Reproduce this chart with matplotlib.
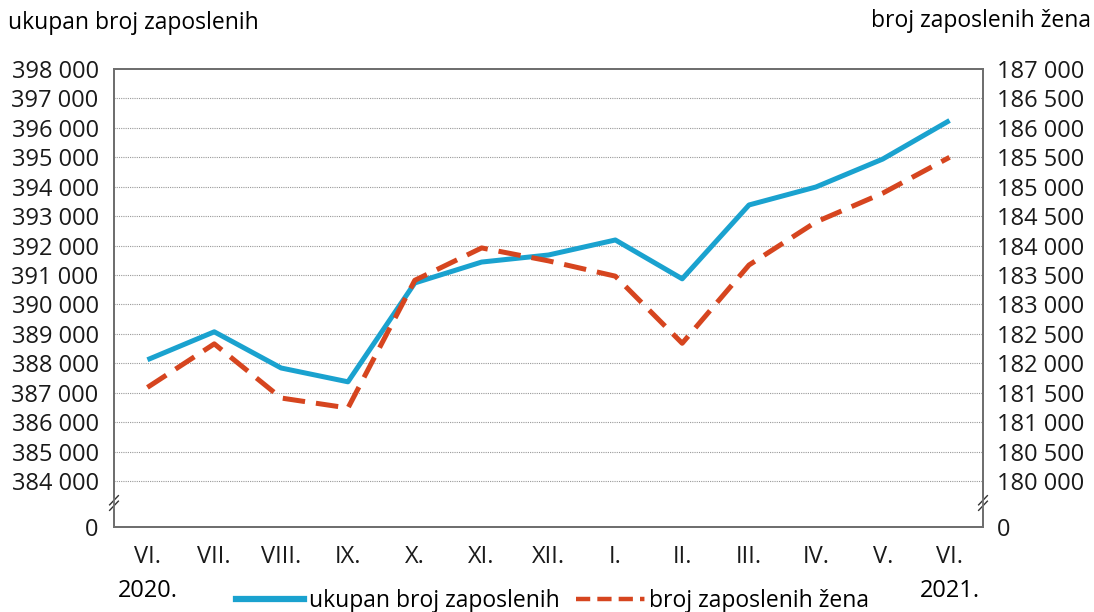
import matplotlib
matplotlib.use('Agg')
import matplotlib.pyplot as plt
import matplotlib.transforms as mtransforms
import numpy as np

plt.rcParams['font.family'] = ['Open Sans', 'DejaVu Sans']

# data
months = ['VI.', 'VII.', 'VIII.', 'IX.', 'X.', 'XI.', 'XII.', 'I.', 'II.', 'III.', 'IV.', 'V.', 'VI.']
total = [388120, 389070, 387840, 387370, 390730, 391440, 391680, 392190, 390870,
         393380, 393990, 394940, 396250]
women = [181590, 182330, 181410, 181240, 183410, 183960, 183740, 183480, 182340,
         183670, 184400, 184890, 185500]
left_ticks = list(range(384000, 398001, 1000))
right_ticks = list(range(180000, 187001, 500))

blue = '#1aa2cf'
red = '#d6451f'
frame = '#6e6e6e'

def fmt(v):
    return '{:,}'.format(v).replace(',', ' ')

fig = plt.figure(figsize=(10.94, 6.12), dpi=100)
ax = fig.add_axes([114 / 1094, 1 - 527 / 612, (983 - 114) / 1094, (527 - 69) / 612])

# bottom of the axis stands for "0" below the break
px_per_k = (481 - 69) / 14.0
ybot = 384000 - (527 - 481) / px_per_k * 1000
ax.set_ylim(ybot, 398000)
ax.set_xlim(-0.5, 12.5)

x = np.arange(len(months))
ax.plot(x, total, color=blue, lw=3.6, solid_capstyle='butt', zorder=4)

ax2 = ax.twinx()
ax2.set_ylim(180000 + (ybot - 384000) / 2, 187000)
ax2.plot(x, women, color=red, lw=3.6, dashes=(4.5, 2.2), zorder=3)

for yv in left_ticks[:-1]:
    ax.axhline(yv, color='#999999', lw=0.8, ls=(0, (1, 1)), zorder=1)

ax.set_yticks([ybot] + left_ticks)
ax.set_yticklabels(['0'] + [fmt(v) for v in left_ticks])
ax2.set_yticks([180000 + (ybot - 384000) / 2] + right_ticks)
ax2.set_yticklabels(['0'] + [fmt(v) for v in right_ticks])
ax.set_xticks(x)
ax.set_xticklabels(months)

fs = 17
ax.tick_params(axis='y', length=0, pad=11, labelsize=fs, colors='#1a1a1a')
ax2.tick_params(axis='y', length=0, pad=10, labelsize=fs, colors='#1a1a1a')
ax.tick_params(axis='x', length=0, pad=13, labelsize=fs, colors='#1a1a1a')

for a in (ax, ax2):
    for s in a.spines.values():
        s.set_color(frame)
        s.set_linewidth(1.3)

# axis break marks
yb = (527 - 503) / 458.0
for xs in (0, 1):
    ax.add_patch(plt.Rectangle((xs - 0.004, yb - 0.012), 0.008, 0.024, transform=ax.transAxes,
                               color='white', clip_on=False, zorder=10))
    for dy in (-0.006, 0.006):
        ax.plot([xs - 0.005, xs + 0.005], [yb + dy - 0.01, yb + dy + 0.01], transform=ax.transAxes,
                color='#333333', lw=1.0, clip_on=False, zorder=11)

# years under first and last month
trans = mtransforms.blended_transform_factory(ax.transData, fig.transFigure)
ax.text(0, 1 - 591 / 612, '2020.', transform=trans, ha='center', va='center', fontsize=fs)
ax.text(12, 1 - 591 / 612, '2021.', transform=trans, ha='center', va='center', fontsize=fs)

fig.text(8 / 1094, 1 - 23 / 612, 'ukupan broj zaposlenih', ha='left', va='center', fontsize=16.5)
fig.text(1091 / 1094, 1 - 21 / 612, 'broj zaposlenih žena', ha='right', va='center', fontsize=16.5)

h1, = ax.plot([], [], color=blue, lw=4.5)
h2, = ax.plot([], [], color=red, lw=3.2, dashes=(3.2, 1.6, 3.2, 1.6, 3.2, 1.6, 1, 1.6))
fig.legend([h1, h2], ['ukupan broj zaposlenih', 'broj zaposlenih žena'], loc='center',
           bbox_to_anchor=(0.505, 1 - 601 / 612), ncol=2, frameon=False, fontsize=16.5,
           handlelength=3.0, handletextpad=0.2, columnspacing=0.7, borderpad=0)

fig.savefig('out.png', dpi=100)
